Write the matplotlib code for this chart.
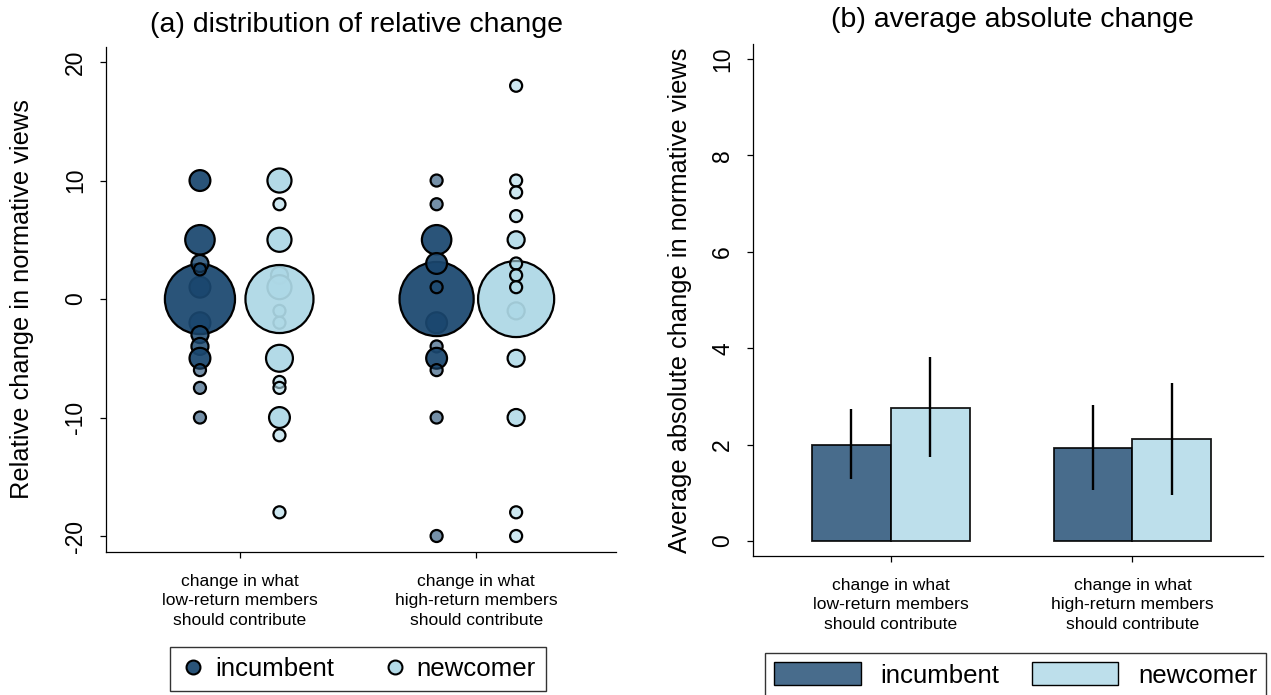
import matplotlib
matplotlib.use("Agg")
import matplotlib.pyplot as plt
from matplotlib.lines import Line2D
from matplotlib.patches import Patch
from matplotlib.colors import to_rgba
import numpy as np

plt.rcParams['font.family'] = ['Liberation Sans', 'DejaVu Sans']
plt.rcParams['axes.unicode_minus'] = False

# ---------------- data ----------------
group_labels = ["change in what\nlow-return members\nshould contribute",
                "change in what\nhigh-return members\nshould contribute"]
series_names = ["incumbent", "newcomer"]

# panel (a): relative change values and number of respondents (plotting order)
low_inc_vals = [1, -2, 0, 10, 5, 3, 2.5, -3, -4, -5, -6, -7.5, -10]
low_inc_counts = [3, 3, 34, 3, 6, 2, 1, 2, 2, 3, 1, 1, 1]
low_new_vals = [2, 1, -1, -2, 0, 10, 8, 5, -5, -7, -7.5, -10, -11.5, -18]
low_new_counts = [2, 4, 1, 1, 32, 4, 1, 4, 5, 1, 1, 3, 1, 1]
high_inc_vals = [-2, 0, 10, 8, 5, 3, 1, -4, -5, -6, -10, -20]
high_inc_counts = [3, 38, 1, 1, 6, 3, 1, 1, 3, 1, 1, 1]
high_new_vals = [-1, 0, 18, 10, 9, 7, 5, 3, 2, 1, -5, -10, -18, -20]
high_new_counts = [2, 40, 1, 1, 1, 1, 2, 1, 1, 1, 2, 2, 1, 1]

# panel (b): average absolute change with confidence intervals
inc_means = [2.00, 1.94]
inc_ci_low = [1.28, 1.06]
inc_ci_high = [2.74, 2.82]
new_means = [2.77, 2.11]
new_ci_low = [1.75, 0.96]
new_ci_high = [3.82, 3.28]

# ---------------- style ----------------
NAVY = "#1a476f"
LTBLUE = "#add8e6"
TICK_FS = 16.5
CAT_FS = 12.6
LABEL_FS = 18.3
TITLE_FS = 20.5
LEG_FS = 18.6

W, H = 1271, 695
fig = plt.figure(figsize=(W / 100, H / 100), dpi=100)

ax1 = fig.add_axes([106 / W, 1 - 552 / H, 510 / W, 505 / H])
ax2 = fig.add_axes([753 / W, 1 - 556 / H, 510 / W, 512 / H])


def style_axes(ax):
    for side in ("top", "right"):
        ax.spines[side].set_visible(False)
    for side in ("left", "bottom"):
        ax.spines[side].set_linewidth(0.9)
    ax.tick_params(axis="both", direction="out", length=4.5, width=0.9)
    ax.tick_params(axis="y", labelsize=TICK_FS, labelrotation=90, pad=9)
    ax.tick_params(axis="x", labelsize=CAT_FS, pad=11)
    for lbl in ax.get_yticklabels():
        lbl.set_va("center")
    for lbl in ax.get_xticklabels():
        lbl.set_linespacing(1.4)


def bubble_colors(base, counts):
    cols = []
    for n in counts:
        a = min(1 - 0.4 ** n, 0.93)
        cols.append(to_rgba(base, a))
    return cols


# ---------------- panel (a) ----------------
offset = 0.168
bubble_data = [
    (1 - offset, low_inc_vals, low_inc_counts, NAVY),
    (1 + offset, low_new_vals, low_new_counts, LTBLUE),
    (2 - offset, high_inc_vals, high_inc_counts, NAVY),
    (2 + offset, high_new_vals, high_new_counts, LTBLUE),
]
for xpos, vals, counts, base in bubble_data:
    ax1.scatter(np.full(len(vals), xpos), vals, s=75 * np.array(counts),
                c=bubble_colors(base, counts), edgecolors="black",
                linewidths=1.6, zorder=3, clip_on=False)

ax1.set_xlim(0.435, 2.59)
ax1.set_ylim(-21.35, 21.27)
ax1.set_yticks([-20, -10, 0, 10, 20])
ax1.set_xticks([1, 2])
ax1.set_xticklabels(group_labels)
style_axes(ax1)
ax1.set_ylabel("Relative change in normative views", fontsize=LABEL_FS)
ax1.yaxis.set_label_coords(-0.141, 0.5)

fig.text(357 / W, 1 - 25 / H, "(a) distribution of relative change",
         ha="center", va="center", fontsize=TITLE_FS)

leg1_handles = [
    Line2D([], [], ls="none", marker="o", markersize=10, mfc=to_rgba(NAVY, 0.93),
           mec="black", mew=1.5),
    Line2D([], [], ls="none", marker="o", markersize=10, mfc=to_rgba(LTBLUE, 0.93),
           mec="black", mew=1.5),
]
leg1 = fig.legend(leg1_handles, series_names, loc="center",
                  bbox_to_anchor=(358 / W, 1 - 669 / H), ncol=2,
                  fontsize=LEG_FS, frameon=True, fancybox=False,
                  edgecolor="black", handlelength=1.0, handletextpad=0.35,
                  columnspacing=1.85, borderpad=0.4)
leg1.get_frame().set_linewidth(1.0)

# ---------------- panel (b) ----------------
bw = 0.326
xg = np.array([1, 2])
inc_means_a = np.array(inc_means)
new_means_a = np.array(new_means)
ax2.bar(xg - bw / 2, inc_means_a, width=bw, color=to_rgba(NAVY, 0.8),
        edgecolor=to_rgba("black", 0.9), linewidth=1.3, zorder=2)
ax2.bar(xg + bw / 2, new_means_a, width=bw, color=to_rgba(LTBLUE, 0.8),
        edgecolor=to_rgba("black", 0.9), linewidth=1.3, zorder=2)
ax2.errorbar(xg - bw / 2, inc_means_a,
             yerr=[inc_means_a - np.array(inc_ci_low), np.array(inc_ci_high) - inc_means_a],
             fmt="none", ecolor="black", elinewidth=1.7, capsize=0, zorder=3)
ax2.errorbar(xg + bw / 2, new_means_a,
             yerr=[new_means_a - np.array(new_ci_low), np.array(new_ci_high) - new_means_a],
             fmt="none", ecolor="black", elinewidth=1.7, capsize=0, zorder=3)

ax2.set_xlim(0.43, 2.54)
ax2.set_ylim(-0.31, 10.31)
ax2.set_yticks([0, 2, 4, 6, 8, 10])
ax2.set_xticks([1, 2])
ax2.set_xticklabels(group_labels)
style_axes(ax2)
ax2.set_ylabel("Average absolute change in normative views", fontsize=LABEL_FS)
ax2.yaxis.set_label_coords(-0.12, 0.5)

fig.text(1012 / W, 1 - 20 / H, "(b) average absolute change",
         ha="center", va="center", fontsize=TITLE_FS)

leg2_handles = [
    Patch(facecolor=to_rgba(NAVY, 0.8), edgecolor="black", linewidth=1.0),
    Patch(facecolor=to_rgba(LTBLUE, 0.8), edgecolor="black", linewidth=1.0),
]
leg2 = fig.legend(leg2_handles, series_names, loc="upper left",
                  bbox_to_anchor=(765 / W, 1 - 653 / H), ncol=2,
                  fontsize=LEG_FS, frameon=True, fancybox=False,
                  edgecolor="black", handlelength=3.35, handleheight=1.0,
                  handletextpad=0.76, columnspacing=1.25, borderpad=0.36,
                  borderaxespad=0)
leg2.get_frame().set_linewidth(1.0)

fig.savefig("out.png", dpi=100)
